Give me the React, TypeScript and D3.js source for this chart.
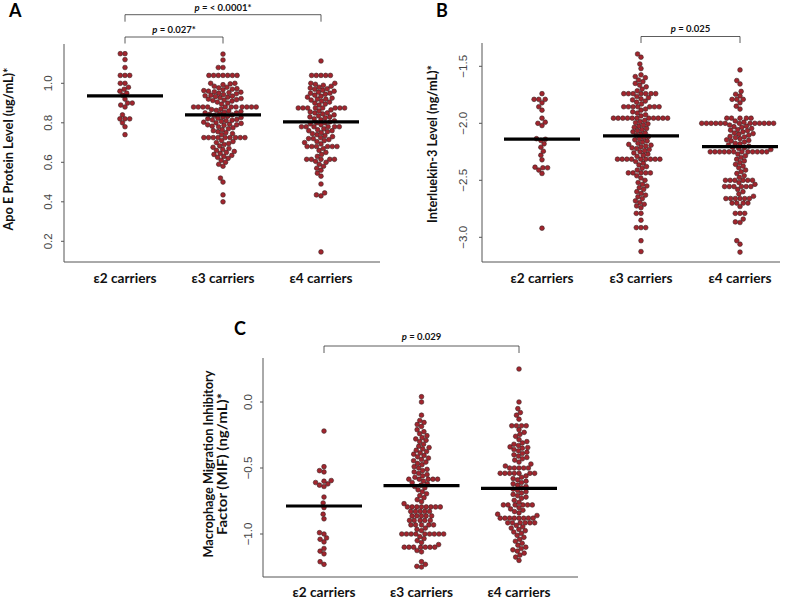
import React from "react";
import * as d3 from "d3";

const categories = ["ε2 carriers", "ε3 carriers", "ε4 carriers"];

// Panel A: Apo E protein level (ug/mL)
const apoE2 = [1.15, 1.15, 1.12, 1.08, 1.04, 1.04, 1.04, 1.0, 1.0, 0.98, 0.97, 0.96, 0.95, 0.94, 0.92, 0.9, 0.9, 0.89, 0.88, 0.84, 0.82, 0.82, 0.82, 0.8, 0.78, 0.74];
const apoE3 = [
  1.148, 1.118, 1.08, 1.08,
  1.04, 1.04, 1.04, 1.04, 1.04, 1.04, 1.04,
  1.0, 1.0, 0.997, 0.993,
  0.985, 0.98, 0.977, 0.973, 0.97, 0.967, 0.963, 0.96, 0.957, 0.955, 0.953, 0.95, 0.947, 0.943, 0.94, 0.937,
  0.935, 0.933, 0.93, 0.927, 0.923, 0.92, 0.917, 0.915, 0.913, 0.91, 0.905, 0.9, 0.895,
  0.88, 0.88, 0.88, 0.88, 0.88, 0.88, 0.88, 0.88, 0.88, 0.88, 0.88,
  0.87, 0.867, 0.863, 0.86, 0.857, 0.853, 0.85, 0.85, 0.847, 0.843, 0.84, 0.837, 0.833, 0.83, 0.827, 0.823, 0.82,
  0.817, 0.815, 0.813, 0.81, 0.807, 0.803, 0.8, 0.797, 0.793, 0.79, 0.79, 0.787, 0.783, 0.78, 0.775, 0.77, 0.765, 0.76,
  0.755, 0.75, 0.745, 0.74,
  0.725, 0.725, 0.725, 0.725, 0.725, 0.725, 0.725, 0.725, 0.725,
  0.71, 0.705, 0.7, 0.695, 0.69, 0.683, 0.676, 0.67, 0.665, 0.66, 0.655, 0.65, 0.645, 0.64, 0.635, 0.63,
  0.625, 0.62, 0.61, 0.6, 0.59, 0.58,
  0.52, 0.5, 0.435, 0.4,
];
const apoE4 = [
  1.113,
  1.04, 1.04, 1.04, 1.04, 1.04,
  1.0, 1.0, 0.995, 0.99, 0.985, 0.98, 0.976, 0.972, 0.97,
  0.965, 0.96, 0.955, 0.95, 0.95, 0.945, 0.94, 0.935, 0.93, 0.925, 0.92, 0.92, 0.915, 0.91, 0.905, 0.9, 0.895, 0.89,
  0.875, 0.875, 0.875, 0.875, 0.875, 0.875, 0.875, 0.875,
  0.865, 0.86, 0.855, 0.85, 0.85, 0.845, 0.84, 0.835, 0.83, 0.83, 0.825, 0.82, 0.815, 0.81, 0.805, 0.8, 0.8, 0.795, 0.79,
  0.78, 0.78, 0.78, 0.78, 0.78, 0.78,
  0.77, 0.765, 0.76, 0.76, 0.755, 0.75, 0.745, 0.74, 0.735, 0.73, 0.725, 0.72, 0.72, 0.715, 0.71, 0.705, 0.7, 0.693,
  0.68, 0.68, 0.68, 0.68, 0.68, 0.68,
  0.67, 0.66, 0.65, 0.64, 0.63,
  0.615, 0.615, 0.615, 0.615, 0.615,
  0.605, 0.6, 0.59, 0.58, 0.57, 0.56, 0.545, 0.53,
  0.49, 0.445, 0.435, 0.43, 0.146,
];
const apoEMeans = [0.936, 0.84, 0.805];
const apoETicks = [0.2, 0.4, 0.6, 0.8, 1.0];

// Panel B: Interleukin-3 level (ng/mL)
const il3E2 = [-1.74, -1.79, -1.79, -1.79, -1.82, -1.855, -1.885, -1.955, -1.99, -2.0, -2.02, -2.135, -2.14, -2.15, -2.18, -2.21, -2.245, -2.28, -2.32, -2.385, -2.39, -2.39, -2.41, -2.44, -2.92];
const il3E3 = [
  -1.392, -1.42, -1.48, -1.52, -1.575, -1.59, -1.6, -1.62, -1.635, -1.65, -1.665, -1.68, -1.7, -1.715,
  -1.74, -1.74, -1.74, -1.74, -1.74, -1.74, -1.74,
  -1.765, -1.775, -1.785, -1.795, -1.805, -1.815, -1.83,
  -1.855, -1.855, -1.855, -1.855, -1.855, -1.855, -1.855,
  -1.875, -1.885, -1.9, -1.91, -1.925, -1.935,
  -1.955, -1.955, -1.955, -1.955, -1.955, -1.955, -1.955, -1.955, -1.955, -1.955, -1.955,
  -1.975, -1.985, -1.995, -2.005, -2.015, -2.025, -2.035, -2.045, -2.055, -2.065, -2.075, -2.085,
  -2.095, -2.105, -2.115, -2.125, -2.135, -2.145, -2.155, -2.165, -2.175, -2.185, -2.192, -2.2,
  -2.207, -2.215, -2.222, -2.23, -2.24, -2.25, -2.26, -2.27, -2.28, -2.29,
  -2.315, -2.315, -2.315, -2.315, -2.315, -2.315, -2.315, -2.315, -2.315,
  -2.335, -2.35, -2.365, -2.38, -2.395, -2.41,
  -2.435, -2.435, -2.435, -2.435, -2.435,
  -2.46, -2.48, -2.5, -2.52, -2.535, -2.55, -2.565, -2.58, -2.6, -2.615, -2.63, -2.645, -2.66, -2.68,
  -2.695, -2.71, -2.725, -2.74,
  -2.79, -2.79, -2.85, -2.915, -2.915, -2.915, -3.03, -3.125,
];
const il3E4 = [
  -1.532, -1.625, -1.655, -1.72, -1.745, -1.76, -1.79, -1.79, -1.79, -1.82, -1.85, -1.875,
  -1.955, -1.955, -1.955, -1.955, -1.955,
  -1.98, -1.99,
  -2.0, -2.0, -2.0, -2.0, -2.0, -2.0, -2.0, -2.0, -2.0, -2.0, -2.0, -2.0, -2.0,
  -2.015, -2.025, -2.03, -2.035, -2.045, -2.055, -2.06, -2.065, -2.075, -2.085, -2.09, -2.095, -2.105,
  -2.115, -2.12, -2.125, -2.135, -2.145, -2.15, -2.155, -2.165, -2.175, -2.18, -2.19, -2.2, -2.21,
  -2.215, -2.22, -2.23,
  -2.25, -2.25, -2.25, -2.25, -2.25, -2.25, -2.25, -2.25, -2.25, -2.25, -2.25, -2.25,
  -2.27, -2.285, -2.3, -2.315, -2.33, -2.345, -2.36, -2.375, -2.39, -2.41, -2.425, -2.44, -2.46, -2.475,
  -2.5, -2.5, -2.5, -2.5, -2.5, -2.5,
  -2.52, -2.535,
  -2.555, -2.555, -2.555, -2.555, -2.555, -2.555,
  -2.58, -2.6, -2.62, -2.64,
  -2.66, -2.66, -2.66, -2.66, -2.66, -2.66,
  -2.7, -2.7, -2.7, -2.7,
  -2.73, -2.79, -2.79, -2.79, -2.84, -2.865, -2.87, -3.03, -3.06, -3.13,
];
const il3Means = [-2.138, -2.111, -2.205];
const il3Ticks = [-3.0, -2.5, -2.0, -1.5];

// Panel C: Macrophage Migration Inhibitory Factor (ng/mL)
const mifE2 = [-0.22, -0.49, -0.52, -0.53, -0.595, -0.6, -0.61, -0.62, -0.63, -0.64, -0.72, -0.765, -0.8, -0.85, -0.885, -0.99, -1.0, -1.03, -1.04, -1.06, -1.11, -1.13, -1.15, -1.21, -1.23];
const mifE3 = [
  0.04, 0.0, -0.1, -0.14, -0.155, -0.17, -0.185,
  -0.21, -0.225, -0.24, -0.255, -0.27, -0.28, -0.29, -0.3,
  -0.32, -0.335, -0.345, -0.355, -0.365, -0.375, -0.385, -0.395, -0.405, -0.415, -0.425, -0.435,
  -0.445, -0.455, -0.465, -0.475, -0.49, -0.5, -0.51, -0.52, -0.53, -0.54, -0.55, -0.56, -0.57,
  -0.585, -0.585, -0.585, -0.585, -0.585,
  -0.6, -0.61, -0.62, -0.63, -0.64, -0.65, -0.665, -0.68, -0.695, -0.71, -0.725, -0.74, -0.755, -0.77,
  -0.795, -0.795, -0.795, -0.795, -0.795, -0.795, -0.795, -0.795,
  -0.829, -0.829, -0.829, -0.829, -0.829,
  -0.863, -0.863, -0.863, -0.863, -0.863,
  -0.897, -0.897, -0.897, -0.897, -0.897,
  -0.931, -0.931, -0.931, -0.931, -0.931,
  -0.955, -0.965, -0.975,
  -1.0, -1.0, -1.0, -1.0, -1.0, -1.0, -1.0, -1.0, -1.0,
  -1.02, -1.035, -1.05, -1.065, -1.08,
  -1.1, -1.1, -1.1, -1.1, -1.1, -1.1, -1.1,
  -1.125, -1.135, -1.21, -1.23, -1.245, -1.25,
];
const mifE4 = [
  0.25, 0.0, -0.05, -0.08, -0.1, -0.13,
  -0.18, -0.18, -0.18, -0.18,
  -0.21, -0.23, -0.245, -0.26,
  -0.285, -0.3, -0.31, -0.32, -0.33, -0.34, -0.345, -0.35, -0.36, -0.37, -0.38, -0.39, -0.4, -0.41,
  -0.42, -0.43, -0.44, -0.455, -0.47, -0.485,
  -0.5, -0.5, -0.5, -0.5, -0.5,
  -0.54, -0.54, -0.54, -0.54, -0.54, -0.54, -0.54,
  -0.56, -0.57, -0.58, -0.59, -0.6, -0.61, -0.62, -0.63, -0.64, -0.65, -0.66, -0.67, -0.68, -0.69,
  -0.7, -0.71, -0.72, -0.73, -0.745, -0.76,
  -0.78, -0.78, -0.78, -0.78, -0.78, -0.78,
  -0.8, -0.81, -0.82, -0.83, -0.84, -0.85, -0.86,
  -0.88, -0.88, -0.88, -0.88, -0.88, -0.88, -0.88, -0.88,
  -0.915, -0.915, -0.915, -0.915, -0.915, -0.915,
  -0.935, -0.945, -0.955, -0.965, -0.975, -0.985, -0.995,
  -1.01, -1.025, -1.04, -1.055, -1.07, -1.085,
  -1.1, -1.11, -1.12, -1.13, -1.145, -1.16, -1.175,
  -1.2,
];
const mifMeans = [-0.788, -0.634, -0.654];
const mifTicks = [-1.0, -0.5, 0.0];

const FILL = "#a2252e";
const STROKE = "#3a2424";
const R = 2.35;
const FONT = "Lato, 'Open Sans', sans-serif";
const TICKFONT = "'Liberation Sans', Arial, sans-serif";

type Pt = { v: number; x: number; y: number };

function swarm(values: number[], y: (v: number) => number, r: number): Pt[] {
  const pts: Pt[] = values.map((v) => ({ v, x: 0, y: y(v) })).sort((a, b) => b.y - a.y);
  const placed: Pt[] = [];
  const d = 2 * r;
  for (const p of pts) {
    const near = placed.filter((q) => Math.abs(q.y - p.y) < d);
    const cands = [0];
    for (const q of near) {
      const dx = Math.sqrt(d * d - (q.y - p.y) ** 2);
      cands.push(q.x + dx, q.x - dx);
    }
    cands.sort((a, b) => Math.abs(a) - Math.abs(b) || a - b);
    for (const c of cands) {
      if (near.every((q) => (q.x - c) ** 2 + (q.y - p.y) ** 2 >= d * d - 1e-6)) {
        p.x = c;
        break;
      }
    }
    placed.push(p);
  }
  return placed;
}

type PanelProps = {
  letter: string;
  letterPos: [number, number];
  groups: number[][];
  means: number[];
  ticks: number[];
  yDom: [number, number];
  yRange: [number, number];
  axisX: number;
  axisTop: number;
  axisBottom: number;
  axisRight: number;
  cx: [number, number];
  labelY: number;
  tickGap: number;
  titleLines: string[];
  titleLens: number[];
  titleX: number[];
  titleY: number;
  brackets: { a: number; b: number; y: number; drop: number; text: string; ty: number }[];
};

function Panel(p: PanelProps) {
  const y = d3.scaleLinear().domain(p.yDom).range(p.yRange);
  const x = d3.scaleLinear().domain([1, 3]).range(p.cx);
  const fmt = (v: number) => d3.format(".1f")(v).replace("-", "−");
  return (
    <g>
      <text x={p.letterPos[0]} y={p.letterPos[1]} fontFamily={FONT} fontWeight="bold" fontSize={18}>
        {p.letter}
      </text>
      <path
        d={`M${p.axisX},${p.axisTop}V${p.axisBottom}H${p.axisRight}`}
        fill="none"
        stroke="#555"
        strokeWidth={1}
      />
      {p.ticks.map((t) => (
        <g key={t}>
          <line x1={p.axisX - 3} x2={p.axisX} y1={y(t)} y2={y(t)} stroke="#555" />
          <text
            transform={`translate(${p.axisX - p.tickGap},${y(t)}) rotate(-90)`}
            textAnchor="middle"
            fontFamily={TICKFONT}
            fontSize={11.5}
            fill="#444"
          >
            {fmt(t)}
          </text>
        </g>
      ))}
      {categories.map((c, i) => (
        <text
          key={c}
          x={x(i + 1)}
          y={p.labelY}
          textAnchor="middle"
          fontFamily={FONT}
          fontWeight="bold"
          fontSize={13.5}
          textLength={63}
          lengthAdjust="spacingAndGlyphs"
          fill="#111"
        >
          {c}
        </text>
      ))}
      {p.titleLines.map((t, i) => (
        <text
          key={t}
          transform={`translate(${p.titleX[i]},${p.titleY}) rotate(-90)`}
          textAnchor="middle"
          fontFamily={FONT}
          fontWeight="bold"
          fontSize={12.5}
          textLength={p.titleLens[i]}
          lengthAdjust="spacingAndGlyphs"
          fill="#111"
        >
          {t}
        </text>
      ))}
      {p.groups.map((g, i) =>
        swarm(g, y, R).map((pt, j) => (
          <circle
            key={`${i}-${j}`}
            cx={x(i + 1) + pt.x}
            cy={pt.y}
            r={R}
            fill={FILL}
            stroke={STROKE}
            strokeWidth={0.6}
          />
        ))
      )}
      {p.means.map((m, i) => (
        <line
          key={i}
          x1={x(i + 1) - 38}
          x2={x(i + 1) + 38}
          y1={y(m)}
          y2={y(m)}
          stroke="#000"
          strokeWidth={3.2}
        />
      ))}
      {p.brackets.map((b, i) => (
        <g key={i}>
          <path
            d={`M${x(b.a)},${b.y + b.drop}V${b.y}H${x(b.b)}V${b.y + b.drop}`}
            fill="none"
            stroke="#333"
            strokeWidth={0.8}
          />
          <text
            x={(x(b.a) + x(b.b)) / 2}
            y={b.ty}
            textAnchor="middle"
            fontFamily={FONT}
            fontWeight="bold"
            fontSize={9.5}
            fill="#111"
          >
            <tspan fontStyle="italic">p</tspan>
            {b.text}
          </text>
        </g>
      ))}
    </g>
  );
}

export default function App() {
  return (
    <svg width={800} height={600} style={{ position: "absolute", left: 0, top: 0, background: "#fff" }}>
      <rect width={800} height={600} fill="#fff" />
      <Panel
        letter="A"
        letterPos={[9, 17]}
        groups={[apoE2, apoE3, apoE4]}
        means={apoEMeans}
        ticks={apoETicks}
        yDom={[0.2, 1.0]}
        yRange={[241.3, 83.3]}
        axisX={64}
        axisTop={44}
        axisBottom={262}
        axisRight={380}
        cx={[125, 321]}
        labelY={283}
        tickGap={12}
        titleLines={["Apo E Protein Level (ug/mL)*"]}
        titleLens={[163]}
        titleX={[13]}
        titleY={149}
        brackets={[
          { a: 1, b: 3, y: 14.7, drop: 7, text: " = < 0.0001*", ty: 10.5 },
          { a: 1, b: 2, y: 37, drop: 6.5, text: " = 0.027*", ty: 32.5 },
        ]}
      />
      <Panel
        letter="B"
        letterPos={[436, 17]}
        groups={[il3E2, il3E3, il3E4]}
        means={il3Means}
        ticks={il3Ticks}
        yDom={[-3.0, -1.5]}
        yRange={[237.3, 66.3]}
        axisX={482}
        axisTop={43}
        axisBottom={262}
        axisRight={780}
        cx={[542, 740]}
        labelY={283}
        tickGap={15}
        titleLines={["Interluekin-3 Level (ng/mL)*"]}
        titleLens={[158]}
        titleX={[437]}
        titleY={144}
        brackets={[{ a: 2, b: 3, y: 36.5, drop: 6.5, text: " = 0.025", ty: 31.5 }]}
      />
      <Panel
        letter="C"
        letterPos={[234, 335]}
        groups={[mifE2, mifE3, mifE4]}
        means={mifMeans}
        ticks={mifTicks}
        yDom={[-1.0, 0.0]}
        yRange={[534, 402]}
        axisX={263}
        axisTop={358}
        axisBottom={577}
        axisRight={578}
        cx={[324, 519]}
        labelY={597}
        tickGap={11}
        titleLines={["Macrophage Migration Inhibitory", "Factor (MIF) (ng/mL)*"]}
        titleLens={[187, 142]}
        titleX={[213, 227]}
        titleY={464}
        brackets={[{ a: 1, b: 3, y: 346, drop: 7, text: " = 0.029", ty: 340 }]}
      />
    </svg>
  );
}
